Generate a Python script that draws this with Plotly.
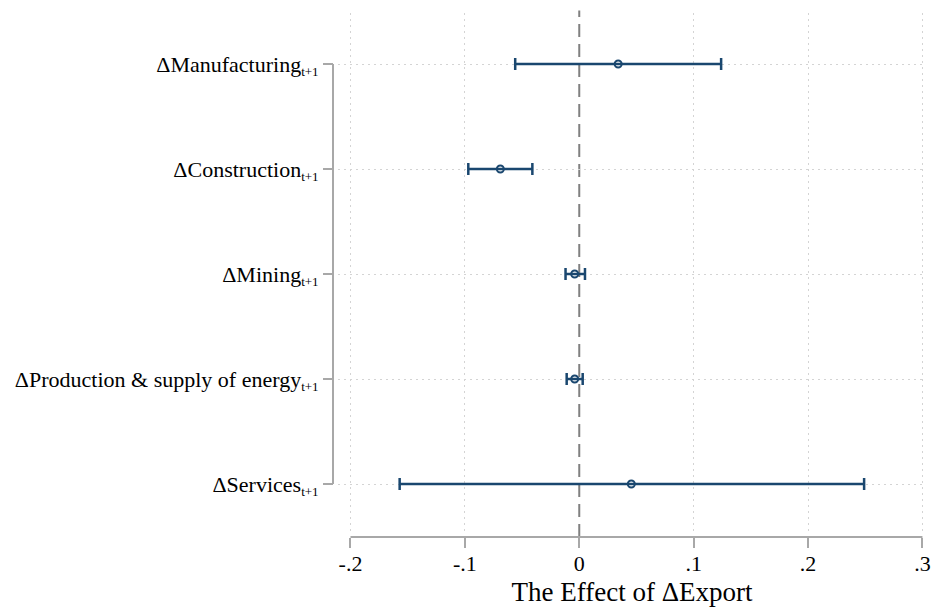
import plotly.graph_objects as go

categories = ["ΔManufacturing", "ΔConstruction", "ΔMining",
              "ΔProduction & supply of energy", "ΔServices"]
estimates = [0.034, -0.069, -0.004, -0.004, 0.0455]
ci_lower = [-0.056, -0.097, -0.012, -0.011, -0.157]
ci_upper = [0.124, -0.041, 0.005, 0.003, 0.249]
x_tickvals = [-0.2, -0.1, 0.0, 0.1, 0.2, 0.3]
x_ticktext = ["-.2", "-.1", "0", ".1", ".2", ".3"]

navy = "#1a476f"
axis_gray = "#a8a8a8"
grid_gray = "#d4d4d4"
font_family = "Liberation Serif"

ypos = list(range(1, len(categories) + 1))
err_plus = [u - e for u, e in zip(ci_upper, estimates)]
err_minus = [e - l for e, l in zip(estimates, ci_lower)]
grid_x = [v for v in x_tickvals if v != 0]

fig = go.Figure()
# invisible helper trace so the grid-only overlay axis is drawn
fig.add_trace(go.Scatter(x=grid_x, y=[ypos[0]] * len(grid_x), xaxis="x2", mode="markers",
                         marker=dict(opacity=0), showlegend=False, hoverinfo="skip"))
fig.add_trace(go.Scatter(
    x=estimates, y=ypos, mode="markers",
    marker=dict(symbol="circle-open", size=7, color=navy, line=dict(width=2, color=navy)),
    error_x=dict(type="data", symmetric=False, array=err_plus, arrayminus=err_minus,
                 color=navy, thickness=2.5, width=6),
    showlegend=False, hoverinfo="skip",
))

ticktext_y = [f'{c}<sub><span style="font-size:13px">t+1</span></sub>' for c in categories]

x_range = [-0.2109, 0.3031]
x_domain = [5 / 593, 1]

fig.update_layout(
    width=934, height=613,
    margin=dict(l=333, r=8, t=13, b=76, pad=0, autoexpand=False),
    plot_bgcolor="white", paper_bgcolor="white",
    font=dict(family=font_family, color="black", size=22),
    xaxis=dict(
        domain=x_domain, range=x_range,
        anchor="free", position=0, automargin=False,
        tickvals=x_tickvals, ticktext=x_ticktext,
        ticks="outside", ticklen=10, tickwidth=2, tickcolor=axis_gray,
        ticklabelstandoff=-3,
        showline=False, zeroline=False, showgrid=False,
        tickfont=dict(size=22),
        title=dict(text="The Effect of ΔExport", font=dict(size=27), standoff=6),
    ),
    xaxis2=dict(
        domain=x_domain, range=x_range, overlaying="x", anchor="y", side="top",
        tickvals=grid_x, showticklabels=False, ticks="", automargin=False,
        showline=False, zeroline=False,
        showgrid=True, gridcolor=grid_gray, gridwidth=1, griddash="2px,4px",
    ),
    yaxis=dict(
        domain=[5 / 524, 1], range=[5.457, 0.514],
        anchor="free", position=0, automargin=False,
        tickvals=ypos, ticktext=ticktext_y,
        ticks="outside", ticklen=10, tickwidth=2, tickcolor=axis_gray,
        showline=False, zeroline=False,
        showgrid=True, gridcolor=grid_gray, gridwidth=1, griddash="2px,4px",
        tickfont=dict(size=22),
    ),
    shapes=[
        dict(type="line", xref="paper", yref="y", x0=0, x1=0, y0=1, y1=5,
             line=dict(color=axis_gray, width=2)),
        dict(type="line", xref="x", yref="paper", x0=-0.2, x1=0.3, y0=0, y1=0,
             line=dict(color=axis_gray, width=2)),
        dict(type="line", xref="x", yref="paper", x0=0, x1=0, y0=0, y1=1.005,
             line=dict(color="#808080", width=2, dash="13px,7px"), layer="between"),
    ],
)

fig.write_html("out.html")
